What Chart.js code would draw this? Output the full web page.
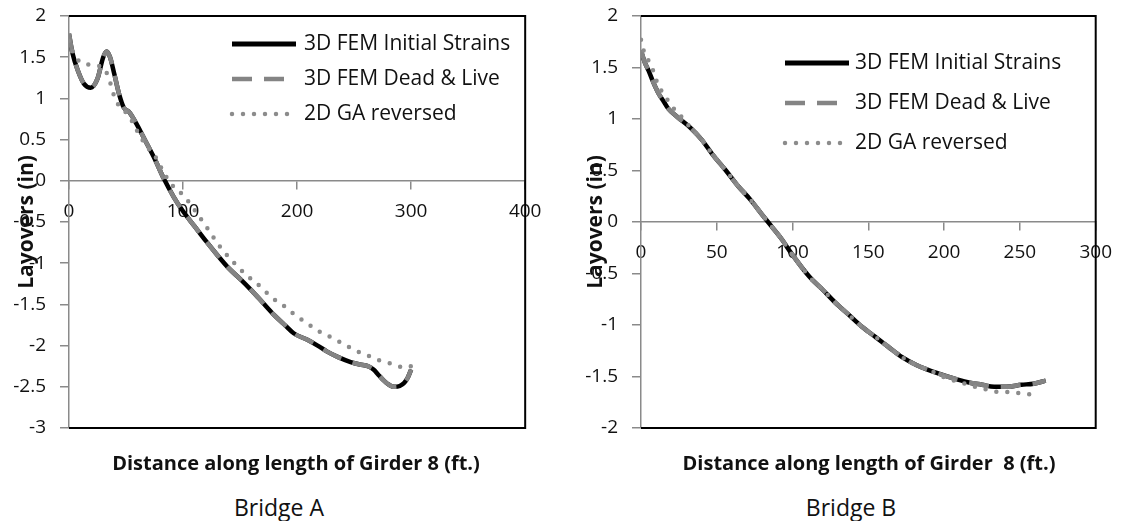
<!DOCTYPE html>
<html>
<head>
<meta charset="utf-8">
<script src="https://cdn.jsdelivr.net/npm/chart.js@4.4.1/dist/chart.umd.min.js"></script>
<style>
  body { margin: 0; background: #fff; width: 1123px; height: 521px; position: relative; overflow: hidden; font-family: "Open Sans", sans-serif; color: #111; }
  canvas { position: absolute; top: 0; }
  #chartA { left: 0; }
  #chartB { left: 560px; }
  .xtitle { position: absolute; top: 450px; font-size: 20px; line-height: 26px; font-weight: bold; white-space: pre; transform: translateX(-50%); }
  .caption { position: absolute; top: 492px; font-size: 23px; line-height: 30px; transform: translateX(-50%); }
</style>
</head>
<body>
<canvas id="chartA" width="560" height="470"></canvas>
<canvas id="chartB" width="563" height="470"></canvas>
<div class="xtitle" style="left:296px">Distance along length of Girder 8 (ft.)</div>
<div class="xtitle" style="left:869px">Distance along length of Girder  8 (ft.)</div>
<div class="caption" style="left:279px">Bridge A</div>
<div class="caption" style="left:851px">Bridge B</div>
<script>
const seriesNames = ['3D FEM Initial Strains', '3D FEM Dead & Live', '2D GA reversed'];

// Bridge A, layovers (in) along girder 8 (ft)
const distA = [0, 3, 8, 13, 19, 25, 30, 33, 36, 40, 44, 48, 53, 60, 66, 75, 83, 92, 100, 110, 120, 130, 140, 150,
  160, 170, 180, 190, 197, 209, 218, 226, 236, 247, 255, 262, 267, 271, 275, 279, 285, 290, 294, 297, 300];
const initStrainA = [1.78, 1.55, 1.33, 1.18, 1.13, 1.24, 1.50, 1.57, 1.50, 1.28, 1.05, 0.89, 0.83, 0.67, 0.51, 0.27, 0.03, -0.20, -0.37, -0.55, -0.73, -0.90, -1.06, -1.19,
  -1.33, -1.48, -1.63, -1.76, -1.85, -1.93, -2.00, -2.07, -2.14, -2.20, -2.23, -2.25, -2.29, -2.35, -2.41, -2.46, -2.50, -2.49, -2.45, -2.39, -2.29];
const deadLiveA = [1.79, 1.55, 1.33, 1.18, 1.13, 1.24, 1.50, 1.57, 1.50, 1.28, 1.05, 0.89, 0.83, 0.67, 0.51, 0.27, 0.03, -0.20, -0.37, -0.55, -0.73, -0.90, -1.06, -1.19,
  -1.33, -1.48, -1.63, -1.76, -1.85, -1.93, -2.00, -2.07, -2.14, -2.20, -2.23, -2.25, -2.29, -2.35, -2.41, -2.46, -2.50, -2.49, -2.45, -2.39, -2.29];
const distGaA = [0, 4, 9, 17, 24, 30, 34, 37, 40, 45, 52, 60, 68, 75, 82, 89, 96, 101, 111, 122, 133, 147, 156,
  165, 172, 178, 186, 193, 200, 207, 215, 222, 230, 238, 246, 253, 262, 270, 278, 287, 295, 300];
const gaReversedA = [1.70, 1.55, 1.45, 1.41, 1.40, 1.37, 1.28, 1.15, 1.01, 0.89, 0.80, 0.60, 0.42, 0.31, 0.13, -0.03, -0.12, -0.19, -0.37, -0.59, -0.81, -1.03, -1.15,
  -1.25, -1.34, -1.42, -1.49, -1.57, -1.65, -1.71, -1.79, -1.85, -1.90, -1.96, -2.02, -2.07, -2.12, -2.17, -2.20, -2.24, -2.27, -2.25];

// Bridge B
const distB = [0, 2.5, 5, 8, 11.5, 15, 18, 24, 33, 40, 47, 56, 64, 72, 80, 86, 93, 99, 111, 120, 128, 137, 146, 155,
  163, 172, 182, 196, 209, 217, 225, 233, 241, 251, 259, 267];
const initStrainB = [1.66, 1.55, 1.47, 1.36, 1.25, 1.17, 1.10, 1.02, 0.91, 0.80, 0.66, 0.50, 0.35, 0.22, 0.07, -0.04, -0.17, -0.30, -0.53, -0.66, -0.78, -0.90, -1.02, -1.12,
  -1.21, -1.31, -1.39, -1.47, -1.53, -1.56, -1.58, -1.60, -1.60, -1.58, -1.57, -1.54];
const deadLiveB = [1.67, 1.55, 1.47, 1.36, 1.25, 1.17, 1.10, 1.02, 0.91, 0.80, 0.66, 0.50, 0.35, 0.22, 0.07, -0.04, -0.17, -0.30, -0.53, -0.66, -0.78, -0.90, -1.02, -1.12,
  -1.21, -1.31, -1.39, -1.47, -1.53, -1.56, -1.58, -1.60, -1.60, -1.58, -1.57, -1.54];
const distGaB = [0, 1, 3, 6, 8, 10, 13.6, 16, 20, 25, 33, 40, 47, 56, 64, 72, 80, 86, 93, 99, 111, 120, 128, 137, 146, 155,
  163, 172, 182, 195, 202, 209, 216, 223, 229, 236, 242, 249, 255, 263];
const gaReversedB = [1.77, 1.70, 1.62, 1.54, 1.47, 1.38, 1.27, 1.22, 1.13, 1.05, 0.91, 0.80, 0.66, 0.50, 0.35, 0.22, 0.07, -0.04, -0.17, -0.30, -0.53, -0.66, -0.78, -0.90, -1.02, -1.12,
  -1.21, -1.31, -1.39, -1.47, -1.52, -1.55, -1.58, -1.61, -1.63, -1.65, -1.65, -1.66, -1.67, -1.69];

// axis ranges: [min, max, step]
const xRangeA = [0, 400, 100];
const yRangeA = [-3, 2, 0.5];
const xRangeB = [0, 300, 50];
const yRangeB = [-2, 2, 0.5];

function pts(xs, ys) {
  return xs.map((x, i) => ({ x: x, y: ys[i] }));
}

function makeDatasets(x1, s1, x2, s2, x3, s3) {
  return [
    { label: seriesNames[0], data: pts(x1, s1), borderColor: '#000', borderWidth: 4.5, order: 3 },
    { label: seriesNames[1], data: pts(x2, s2), borderColor: '#848484', borderWidth: 4.5, borderDash: [20, 12], order: 2 },
    { label: seriesNames[2], data: pts(x3, s3), borderColor: '#8c8c8c', borderWidth: 4.5, borderDash: [0, 11], borderCapStyle: 'round', order: 1 }
  ];
}

// black frame (top, right, bottom) and the legend inside the plot
const decor = {
  id: 'decor',
  afterDatasetsDraw(chart, args, o) {
    const { ctx, chartArea: a } = chart;
    ctx.save();
    ctx.setLineDash([]);
    ctx.lineCap = 'butt';
    ctx.strokeStyle = '#000';
    ctx.lineWidth = 2;
    ctx.beginPath();
    ctx.moveTo(a.left, a.top);
    ctx.lineTo(a.right, a.top);
    ctx.lineTo(a.right, a.bottom);
    ctx.lineTo(a.left, a.bottom);
    ctx.stroke();

    chart.data.datasets.forEach((ds, i) => {
      const y = o.top + i * o.rowGap;
      ctx.beginPath();
      ctx.setLineDash(ds.borderDash || []);
      ctx.lineCap = ds.borderCapStyle || 'butt';
      ctx.lineWidth = i === 0 ? 5 : ds.borderWidth;
      ctx.strokeStyle = ds.borderColor;
      ctx.moveTo(o.left, y);
      ctx.lineTo(o.left + o.lineLen, y);
      ctx.stroke();
      ctx.setLineDash([]);
      ctx.fillStyle = '#111';
      ctx.font = '21px "Open Sans"';
      ctx.textBaseline = 'middle';
      ctx.fillText(ds.label, o.left + o.lineLen + o.gap, y);
    });
    ctx.restore();
  }
};

function makeChart(id, datasets, xr, yr, yWidth, titlePad, legend) {
  const pad = { top: 16, right: 0, bottom: 30, left: 0 };
  return new Chart(document.getElementById(id), {
    type: 'line',
    data: { datasets: datasets },
    options: {
      responsive: false,
      animation: false,
      layout: { padding: pad },
      elements: { point: { radius: 0 }, line: { cubicInterpolationMode: 'monotone', fill: false } },
      plugins: { legend: { display: false }, tooltip: { enabled: false }, decor: legend },
      scales: {
        x: {
          type: 'linear',
          position: { y: 0 },
          min: xr[0], max: xr[1],
          grid: { drawOnChartArea: false, drawTicks: true, tickLength: 8, color: '#8a8a8a', lineWidth: 1.5 },
          border: { color: '#8a8a8a', width: 1.5 },
          ticks: { stepSize: xr[2], padding: 11, color: '#111', font: { family: 'Open Sans', size: 19 }, maxRotation: 0,
            autoSkip: false, callback: v => String(v) }
        },
        y: {
          type: 'linear',
          min: yr[0], max: yr[1],
          afterFit: s => { s.width = yWidth; },
          grid: { drawOnChartArea: false, drawTicks: true, tickLength: 9, color: '#8a8a8a', lineWidth: 1.5 },
          border: { color: '#8a8a8a', width: 1.5 },
          // small lineHeight keeps the end labels from pushing the plot inward
          ticks: { stepSize: yr[2], padding: 14, color: '#111', font: { family: 'Open Sans', size: 19, lineHeight: 0.05 },
            autoSkip: false, callback: v => String(v) },
          title: { display: true, text: 'Layovers (in)', color: '#111', padding: { top: titlePad, bottom: 0 },
            font: { family: 'Open Sans', size: 21, weight: 'bold' } }
        }
      }
    },
    plugins: [decor]
  });
}

// nudge the layout padding until the plot box sits where it should
function fitArea(chart, box) {
  const pad = chart.config.options.layout.padding;
  for (let k = 0; k < 4; k++) {
    const a = chart.chartArea;
    pad.top += box.top - a.top;
    pad.bottom += a.bottom - box.bottom;
    pad.right += a.right - box.right;
    chart.update();
  }
}

const chartA = makeChart('chartA', makeDatasets(distA, initStrainA, distA, deadLiveA, distGaA, gaReversedA),
  xRangeA, yRangeA, 69, 14, { left: 232, lineLen: 64, gap: 8, top: 44, rowGap: 35 });
fitArea(chartA, { top: 16, bottom: 428, right: 524 });

const chartB = makeChart('chartB', makeDatasets(distB, initStrainB, distB, deadLiveB, distGaB, gaReversedB),
  xRangeB, yRangeB, 81, 23, { left: 225, lineLen: 64, gap: 6, top: 63, rowGap: 40 });
fitArea(chartB, { top: 16, bottom: 428, right: 538 });
</script>
</body>
</html>
